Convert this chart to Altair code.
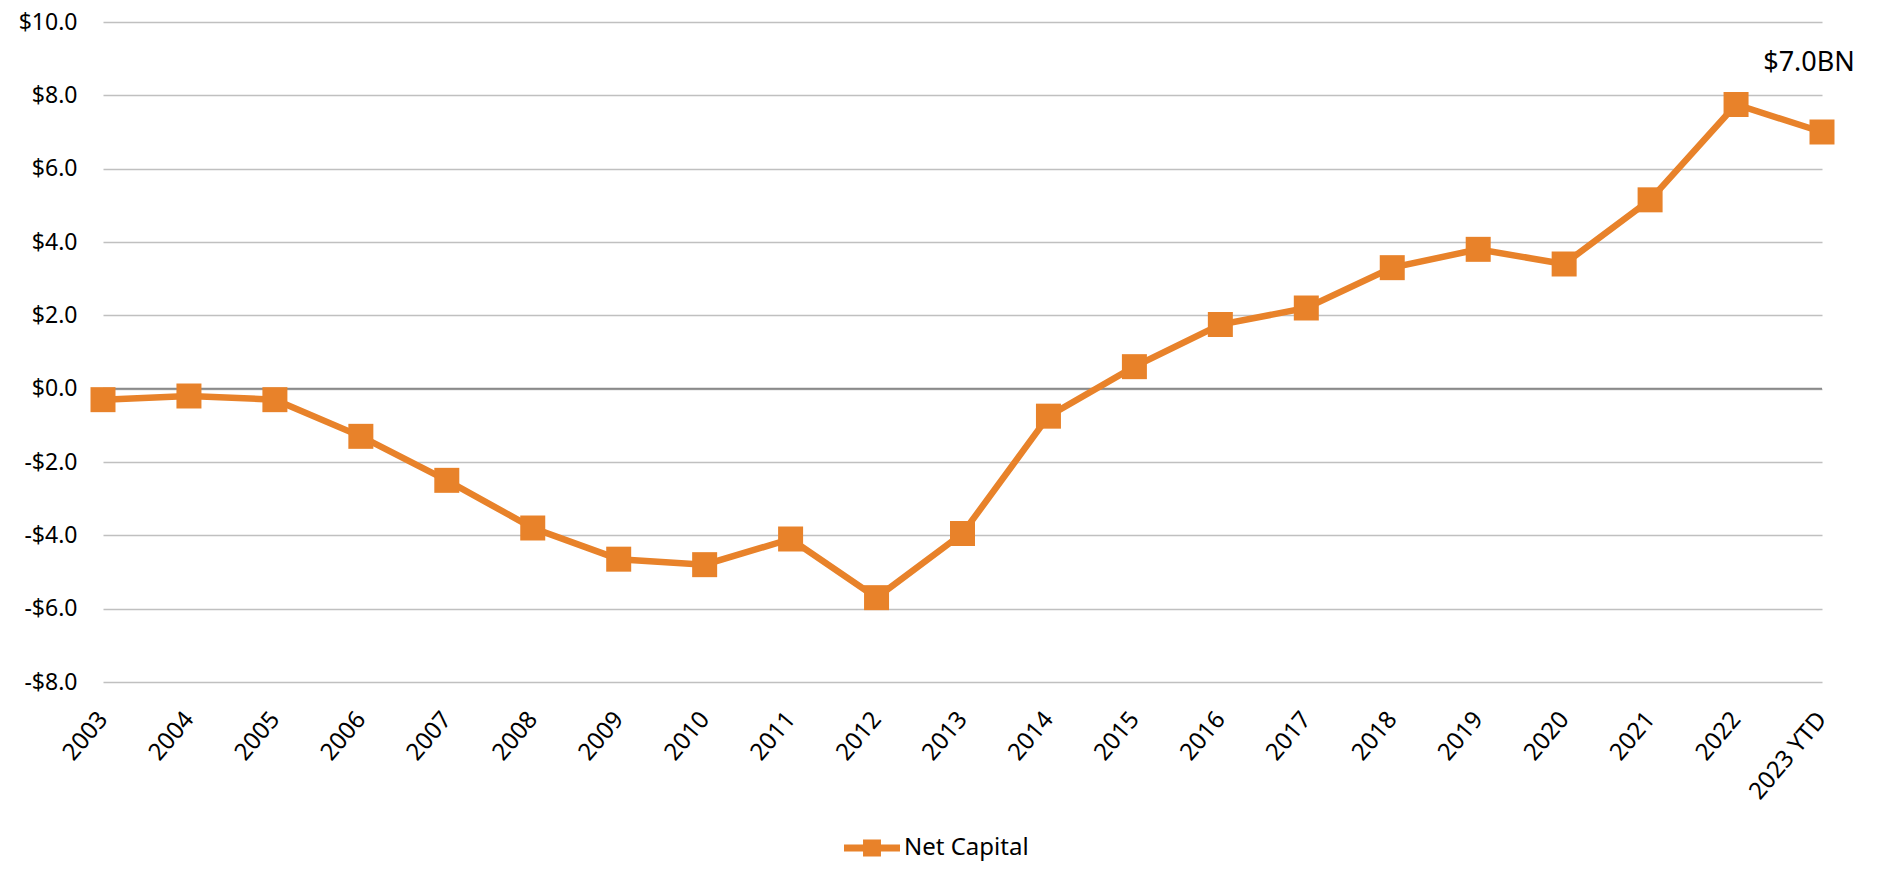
import altair as alt
import pandas as pd

years = ["2003", "2004", "2005", "2006", "2007", "2008", "2009", "2010", "2011", "2012",
         "2013", "2014", "2015", "2016", "2017", "2018", "2019", "2020", "2021", "2022", "2023 YTD"]
net_capital = [-0.3, -0.2, -0.3, -1.3, -2.5, -3.8, -4.65, -4.8, -4.1, -5.7,
               -3.95, -0.75, 0.6, 1.75, 2.2, 3.3, 3.8, 3.4, 5.15, 7.75, 7.0]
series_name = "Net Capital"
annotation_text = ["$7.0BN"]

ORANGE = "#E8822A"
FONT = "Noto Sans"

df = pd.DataFrame({"year": years, "value": net_capital, "series": series_name})
ann = pd.DataFrame({"year": [years[-1]], "value": [net_capital[-1]], "label": annotation_text})

x_enc = alt.X("year:N", sort=years, title=None,
              scale=alt.Scale(type="point", padding=0),
              axis=alt.Axis(labelAngle=-50, labelAlign="right", labelBaseline="middle",
                            labelFontSize=24, labelFont=FONT, labelColor="#000000",
                            ticks=False, domain=False, grid=False, labelPadding=33))
y_enc = alt.Y("value:Q", title=None,
              scale=alt.Scale(domain=[-8, 10], nice=False, zero=False),
              axis=alt.Axis(values=list(range(-8, 11, 2)), labelFontSize=23, labelFont=FONT,
                            labelColor="#000000", ticks=False, domain=False, grid=True,
                            gridColor="#c0c0c0", gridWidth=1.5, labelPadding=26,
                            labelExpr="(datum.value < 0 ? '-' : '') + '$' + format(abs(datum.value), '.1f')"))

color_enc = alt.Color("series:N", scale=alt.Scale(domain=[series_name], range=[ORANGE]),
                      legend=alt.Legend(title=None, orient="none", legendX=741, legendY=798,
                                        labelFontSize=24, labelFont=FONT, labelColor="#000000",
                                        symbolType="M-1,-0.125L1,-0.125L1,0.125L-1,0.125Z M-0.32,-0.3L0.32,-0.3L0.32,0.3L-0.32,0.3Z",
                                        symbolSize=3136, symbolFillColor=ORANGE, symbolStrokeWidth=0,
                                        symbolStrokeColor=ORANGE, labelOffset=4))

zero = alt.Chart(pd.DataFrame({"z": [0]})).mark_rule(color="#8a8a8a", strokeWidth=2).encode(y="z:Q")

line = alt.Chart(df).mark_line(strokeWidth=6.5, color=ORANGE).encode(x=x_enc, y=y_enc)
points = alt.Chart(df).mark_point(shape="square", size=625, filled=True, opacity=1, strokeWidth=0).encode(
    x=x_enc, y=y_enc, color=color_enc)
text = alt.Chart(ann).mark_text(fontSize=27, font=FONT, color="#000000", dx=-13, dy=-61,
                                align="center", baseline="alphabetic").encode(
    x=alt.X("year:N", sort=years), y="value:Q", text="label:N")

chart = alt.layer(zero, line, points, text).properties(
    width=1719, height=660,
    autosize=alt.AutoSizeParams(type="none"),
    padding={"left": 95, "top": 14, "right": 52, "bottom": 179},
).configure(background="#ffffff").configure_view(strokeWidth=0, stroke="transparent")

chart.save("out.html", embed_options={"renderer": "svg", "actions": False})
